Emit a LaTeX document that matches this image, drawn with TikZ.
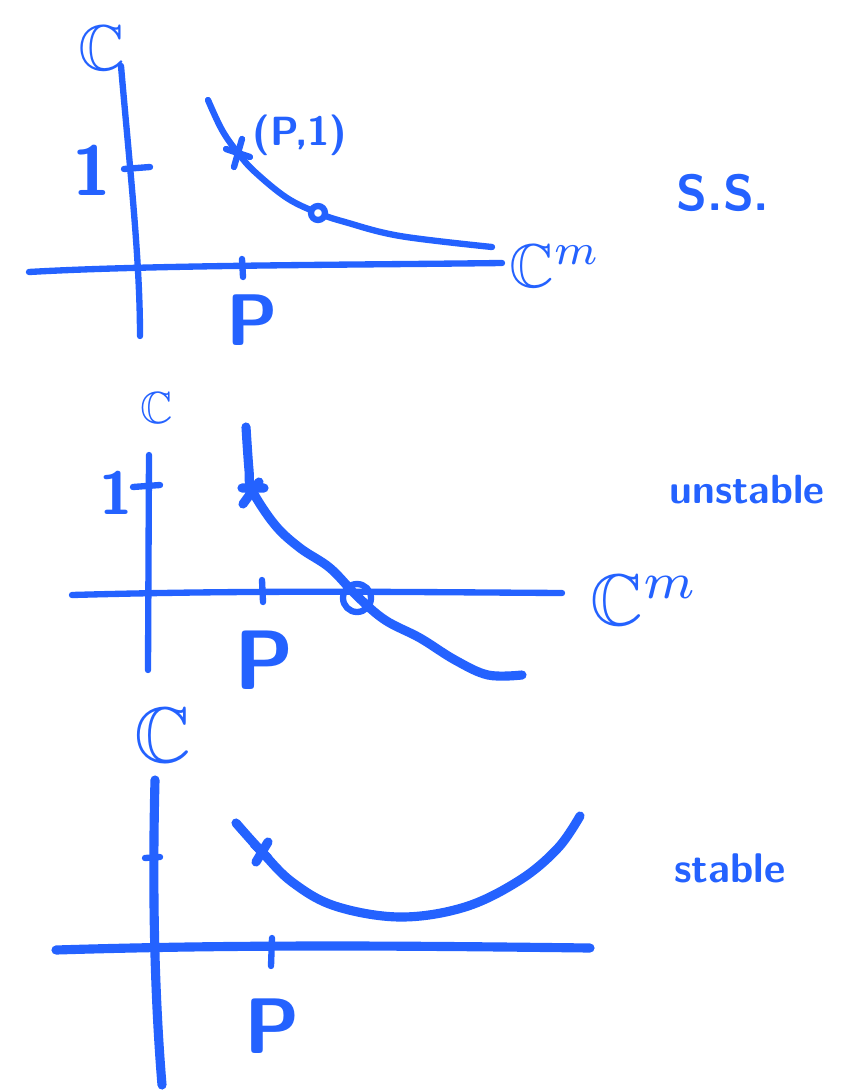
\documentclass[tikz,border=0pt]{standalone}
\usepackage{amssymb}
\definecolor{ink}{RGB}{36,98,255}
\begin{document}
\begin{tikzpicture}[x=0.025cm, y=-0.025cm, line cap=round, line join=round,
		pen/.style={draw=ink, line width=4.5pt},
		fatpen/.style={draw=ink, line width=6.5pt},
		lbl/.style={text=ink, inner sep=0pt},
		tag/.style={text=ink, inner sep=0pt, font=\sffamily\bfseries}]
		\useasboundingbox[fill=white] (0,0) rectangle (841,1090);
		
		% Bild 1 -- s.s.
		\draw[pen] (121,66) .. controls (130,170) and (140,260) .. (140,336);
		\draw[pen] (29,272) .. controls (150,265) and (350,265) .. (502,263);
		\draw[pen] (124,169) -- (150,167);
		\draw[pen] (242,259) -- (243,277);
		\draw[pen] plot[smooth, tension=0.6] coordinates {(208,100) (222,130) (238,153) (255,172) (287,198) (318,213) (345,222) (400,236) (492,247)};
		\coordinate (xA) at (238,153);
		\draw[pen] (xA) ++(-12,-4) -- ++(24,8) (xA) ++(-4,14) -- ++(8,-28);
		\draw[pen, fill=white] (318,213) circle (7);
		\node[lbl, scale=4.6] (cA) at (102,48) {$\mathbb{C}$};
		\node[tag, scale=5] (oneA) at (92,170) {1};
		\node[tag, scale=5.2] (pA) at (252,320) {P};
		\node[tag, scale=2.9] (ptA) at (300,135) {(P,1)};
		\node[lbl, scale=4.4] (cmA) at (555,266) {$\mathbb{C}^m$};
		\node[tag, scale=3.6] (ssA) at (723,193) {S.S.};
		
		% Bild 2 -- unstable
		\draw[pen] (149,455) -- (148,670);
		\draw[pen] (72,595) .. controls (250,590) and (400,592) .. (562,593);
		\draw[pen] (133,487) -- (160,485);
		\draw[pen] (262,580) -- (263,602);
		\draw[fatpen] plot[smooth, tension=0.6] coordinates {(246,427) (249,470) (252,490) (275,525) (300,548) (330,568) (357,596) (385,620) (420,638) (455,660) (488,675) (522,675)};
		\coordinate (xB) at (252,490);
		\draw[fatpen] (xB) ++(-10,-2) -- ++(22,0) (xB) ++(-9,14) -- ++(16,-22);
		\draw[pen] (357,598) circle (14);
		\node[lbl, scale=3.2] (cB) at (157,408) {$\mathbb{C}$};
		\node[tag, scale=4.3] (oneB) at (116,493) {1};
		\node[tag, scale=6] (pB) at (264,660) {P};
		\node[lbl, scale=5.2] (cmB) at (645,600) {$\mathbb{C}^m$};
		\node[tag, scale=2.9] (unB) at (747,490) {unstable};
		
		% Bild 3 -- stable
		\draw[fatpen] (155,780) .. controls (152,900) and (155,1000) .. (162,1085);
		\draw[fatpen] (56,950) .. controls (250,944) and (420,946) .. (590,948);
		\draw[pen] (145,858) -- (160,857);
		\draw[pen] (272,938) -- (271,966);
		\draw[fatpen] plot[smooth, tension=0.6] coordinates {(236,823) (262,852) (292,882) (335,906) (400,917) (465,907) (520,880) (558,848) (580,816)};
		\coordinate (xC) at (262,852);
		\draw[fatpen] (xC) ++(-8,-8) -- ++(14,14) (xC) ++(-6,10) -- ++(12,-20);
		\node[lbl, scale=5.6] (cC) at (163,735) {$\mathbb{C}$};
		\node[tag, scale=5.6] (pC) at (272,1026) {P};
		\node[tag, scale=2.95] (stC) at (730,868) {stable};
	\end{tikzpicture}
\end{document}
